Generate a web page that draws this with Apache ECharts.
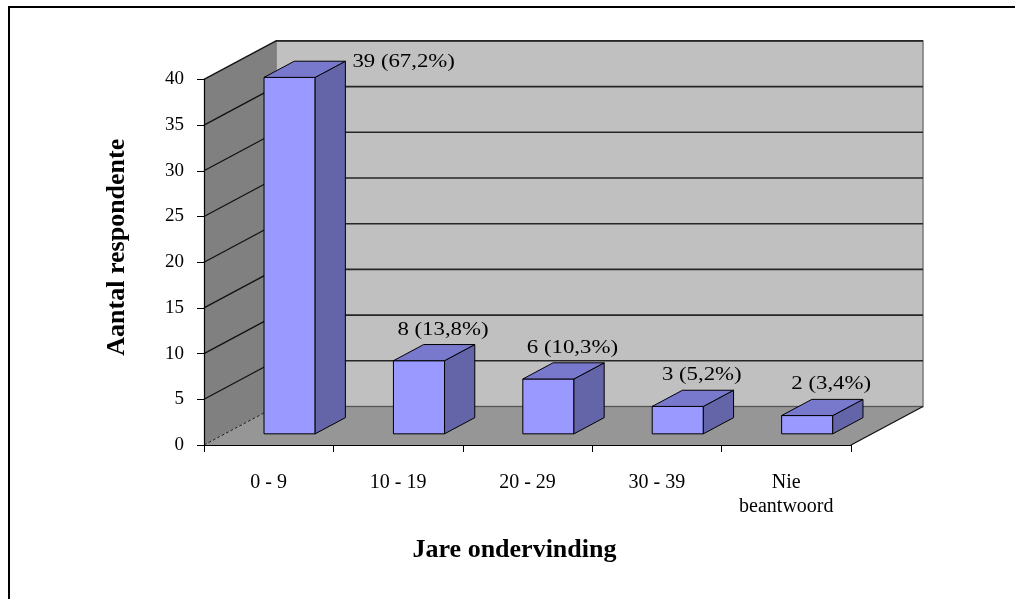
<!DOCTYPE html>
<html>
<head>
<meta charset="utf-8">
<script src="https://cdn.jsdelivr.net/npm/echarts@6/dist/echarts.min.js"></script>
<style>
  html, body { margin: 0; padding: 0; background: #fff; }
  #wrap { position: relative; width: 1015px; height: 599px; overflow: hidden; }
  #chart { position: absolute; left: 0; top: 0; width: 1015px; height: 599px; }
  #frame { position: absolute; left: 8px; top: 6px; width: 1100px; height: 700px;
           border-left: 2px solid #000; border-top: 2px solid #000; pointer-events: none; }
</style>
</head>
<body>
<div id="wrap"><div id="chart"></div><div id="frame"></div></div>
<script>
// Years of teaching experience vs number of respondents
const categories = ['0 - 9', '10 - 19', '20 - 29', '30 - 39', 'Nie\nbeantwoord'];
const respondents = [39, 8, 6, 3, 2];
const yTicks = [0, 5, 10, 15, 20, 25, 30, 35, 40];
const xTitle = 'Jare ondervinding';
const yTitle = 'Aantal respondente';

const total = respondents.reduce((a, b) => a + b, 0);
const labelText = v => v + ' (' + (v / total * 100).toFixed(1).replace('.', ',') + '%)';

// oblique projection of the depth axis (pixels from front plane to back wall)
const DEPTH = { dx: 72, dy: -38.5 };
// bar placement inside the depth and its width as a share of a category
const BAR = { front: 0.29, back: 0.71, width: 0.395 };
const FONT = '"Liberation Serif", "Times New Roman", serif';

function renderWalls(params, api) {
  const cs = params.coordSys;
  const x0 = cs.x, x1 = cs.x + cs.width;
  const yAt = v => api.coord([0, v])[1];
  const yb = yAt(yTicks[0]);
  const yt = yAt(yTicks[yTicks.length - 1]);
  const dx = DEPTH.dx, dy = DEPTH.dy;
  const ch = [];
  // floor
  ch.push({ type: 'polygon', shape: { points: [[x0, yb], [x0 + dx, yb + dy], [x1 + dx, yb + dy], [x1, yb]] },
            style: { fill: '#969696' } });
  // left side wall
  ch.push({ type: 'polygon', shape: { points: [[x0, yt], [x0 + dx, yt + dy], [x0 + dx, yb + dy], [x0, yb]] },
            style: { fill: '#808080' } });
  // back wall
  ch.push({ type: 'rect', shape: { x: x0 + dx, y: yt + dy, width: x1 - x0, height: yb - yt },
            style: { fill: '#c0c0c0', stroke: '#7a7a7a', lineWidth: 1.5 } });
  // gridlines on the back wall and the side wall
  yTicks.forEach(v => {
    const y = yAt(v);
    if (v === yTicks[0]) {
      ch.push({ type: 'line', shape: { x1: x0, y1: y, x2: x0 + dx, y2: y + dy },
                style: { stroke: '#222', lineWidth: 1, lineDash: [3, 2] } });
      ch.push({ type: 'line', shape: { x1: x0 + dx, y1: y + dy, x2: x1 + dx, y2: y + dy },
                style: { stroke: '#555', lineWidth: 1 } });
    } else {
      ch.push({ type: 'line', shape: { x1: x0 + dx, y1: y + dy, x2: x1 + dx, y2: y + dy },
                style: { stroke: '#262626', lineWidth: 1.6 } });
      ch.push({ type: 'line', shape: { x1: x0, y1: y, x2: x0 + dx, y2: y + dy },
                style: { stroke: '#111', lineWidth: 1.3 } });
    }
  });
  // right edge of the floor
  ch.push({ type: 'line', shape: { x1: x1, y1: yb, x2: x1 + dx, y2: yb + dy },
            style: { stroke: '#111', lineWidth: 1.3 } });
  return { type: 'group', children: ch };
}

function renderBar(params, api) {
  const i = api.value(0), v = api.value(1);
  const base = api.coord([i, 0]);
  const top = api.coord([i, v]);
  const cw = api.size([1, 0])[0];
  const w = cw * BAR.width;
  const fx = DEPTH.dx * BAR.front, fy = DEPTH.dy * BAR.front;
  const bx = DEPTH.dx * (BAR.back - BAR.front), by = DEPTH.dy * (BAR.back - BAR.front);
  const L = base[0] + fx - w / 2, R = L + w;
  const B = base[1] + fy, T = top[1] + fy;
  const edge = { stroke: '#000', lineWidth: 1, lineJoin: 'round' };
  const backTopY = T + by;
  const wallTop = api.coord([0, yTicks[yTicks.length - 1]])[1] + DEPTH.dy;
  let label;
  if (backTopY - 27 < wallTop) {
    label = { x: R + bx + 7, y: backTopY + 1, align: 'left' };
  } else {
    label = { x: L + w / 2 + 24, y: backTopY - 15, align: 'center' };
  }
  return {
    type: 'group',
    children: [
      { type: 'rect', shape: { x: L, y: T, width: w, height: B - T },
        style: Object.assign({ fill: '#9999ff' }, edge) },
      { type: 'polygon', shape: { points: [[R, T], [R + bx, T + by], [R + bx, B + by], [R, B]] },
        style: Object.assign({ fill: '#6464a8' }, edge) },
      { type: 'polygon', shape: { points: [[L, T], [L + bx, T + by], [R + bx, T + by], [R, T]] },
        style: Object.assign({ fill: '#7878cc' }, edge) },
      { type: 'text', x: label.x, y: label.y, scaleX: 1.2,
        style: { text: labelText(v), fill: '#000', font: '19px ' + FONT,
                 align: label.align, verticalAlign: 'middle' } }
    ]
  };
}

const chart = echarts.init(document.getElementById('chart'), null, { renderer: 'canvas' });
chart.setOption({
  backgroundColor: '#fff',
  animation: false,
  grid: { left: 204, right: 164, top: 79.4, bottom: 154 },
  xAxis: {
    type: 'category',
    data: categories,
    boundaryGap: true,
    name: xTitle,
    nameLocation: 'middle',
    nameGap: 92,
    nameTextStyle: { fontFamily: FONT, fontSize: 26, fontWeight: 'bold', color: '#000',
                     padding: [0, 26, 0, 0] },
    axisLine: { show: true, lineStyle: { color: '#000', width: 1.2 } },
    axisTick: { show: true, length: 7, alignWithLabel: false, lineStyle: { color: '#000' } },
    axisLabel: { margin: 26, fontFamily: FONT, fontSize: 20, lineHeight: 24, color: '#000', interval: 0 },
    splitLine: { show: false }
  },
  yAxis: {
    type: 'value',
    min: 0, max: 40, interval: 5,
    name: yTitle,
    nameLocation: 'middle',
    nameGap: 74,
    nameTextStyle: { fontFamily: FONT, fontSize: 26, fontWeight: 'bold', color: '#000',
                     padding: [0, 0, 0, 30] },
    axisLine: { show: true, lineStyle: { color: '#000', width: 1.2 } },
    axisTick: { show: true, length: 7, lineStyle: { color: '#000' } },
    axisLabel: { margin: 20, fontFamily: FONT, fontSize: 19, color: '#000' },
    splitLine: { show: false }
  },
  series: [
    {
      type: 'custom',
      name: 'walls',
      silent: true,
      clip: false,
      z: 0,
      renderItem: renderWalls,
      data: [[0, 0]]
    },
    {
      type: 'custom',
      name: 'Aantal respondente',
      silent: true,
      clip: false,
      z: 2,
      renderItem: renderBar,
      encode: { x: 0, y: 1 },
      data: respondents.map((v, i) => [i, v])
    }
  ]
});
</script>
</body>
</html>
